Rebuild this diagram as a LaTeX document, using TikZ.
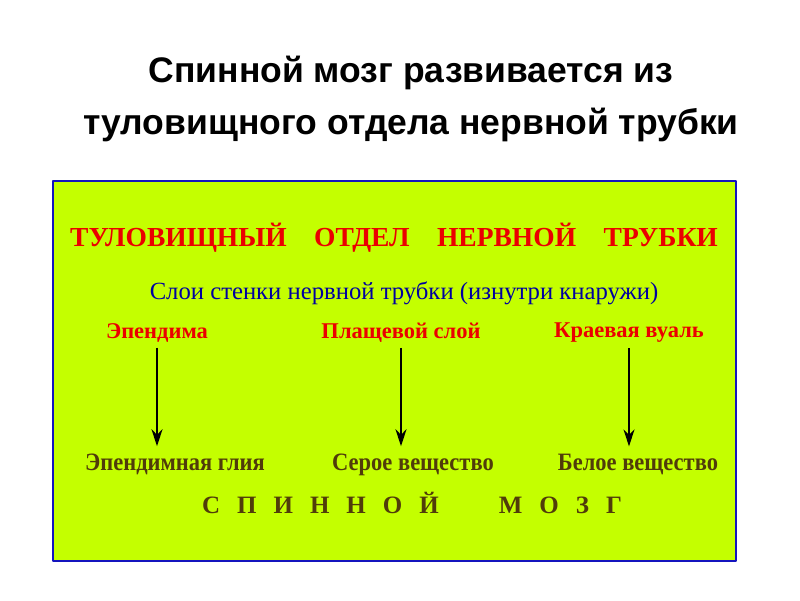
\documentclass[tikz,border=0pt]{standalone}
\usepackage{fontspec}
\setmainfont{Liberation Serif}
\newfontfamily\titlefont{Liberation Sans}
\newfontfamily\narrowserif[FakeStretch=0.9]{Liberation Serif}
\usetikzlibrary{arrows.meta}
\definecolor{slidegreen}{RGB}{196,255,0}
\definecolor{frameblue}{RGB}{20,20,190}
\definecolor{headred}{RGB}{235,0,0}
\definecolor{layerblue}{RGB}{0,0,160}
\definecolor{tissuebrown}{RGB}{80,60,10}
\tikzset{
  title/.style={font=\titlefont\bfseries\fontsize{35.5}{40}\selectfont,inner sep=0pt},
  head/.style={font=\bfseries\fontsize{27.5}{32}\selectfont,text=headred,inner sep=0pt},
  walls/.style={font=\fontsize{24.7}{29}\selectfont,text=layerblue,inner sep=0pt},
  layer/.style={font=\bfseries\fontsize{22.5}{26}\selectfont,text=headred,inner sep=0pt},
  tissue/.style={font=\narrowserif\bfseries\fontsize{25}{29}\selectfont,text=tissuebrown,inner sep=0pt,anchor=base},
  organ/.style={font=\bfseries\fontsize{25}{29}\selectfont,text=tissuebrown,inner sep=0pt},
  develop/.style={-{Stealth[length=17pt,width=11pt]},line width=1.5pt},
}
\newcommand{\gp}{\hspace{17pt}}
\begin{document}
\begin{tikzpicture}[x=1pt,y=-1pt,line join=round]
			\useasboundingbox (0,0) rectangle (800,600);
			\fill[white] (0,0) rectangle (800,600);
			\draw[frameblue,line width=2pt,fill=slidegreen] (53,181) rectangle (736,561);
			\node[title] (t1) at (411,73) {Спинной мозг развивается из};
			\node[title] (t2) at (411,125) {туловищного отдела нервной трубки};
			\node[head] (hd) at (394,238) {ТУЛОВИЩНЫЙ\quad ОТДЕЛ\quad НЕРВНОЙ\quad ТРУБКИ};
			\node[walls] (wl) at (404,293) {Слои стенки нервной трубки (изнутри кнаружи)};
			\foreach \x/\y/\a/\b/\n in {157/175/Эпендима/Эпендимная глия/1,401/413/Плащевой слой/Серое вещество/2,629/638/Краевая вуаль/Белое вещество/3}{
				\node[layer] (l\n) at (\x,333) {\a};
				\node[tissue] (s\n) at (\y,470) {\b};
				\draw[develop] ([yshift=-5pt]l\n.south) -- ([yshift=7pt]l\n.south |- s\n.north);
			}
			\node[organ] (sm) at (412,503) {С\gp П\gp И\gp Н\gp Н\gp О\gp Й\hspace{60pt}М\gp О\gp З\gp Г};
		\end{tikzpicture}
\end{document}
